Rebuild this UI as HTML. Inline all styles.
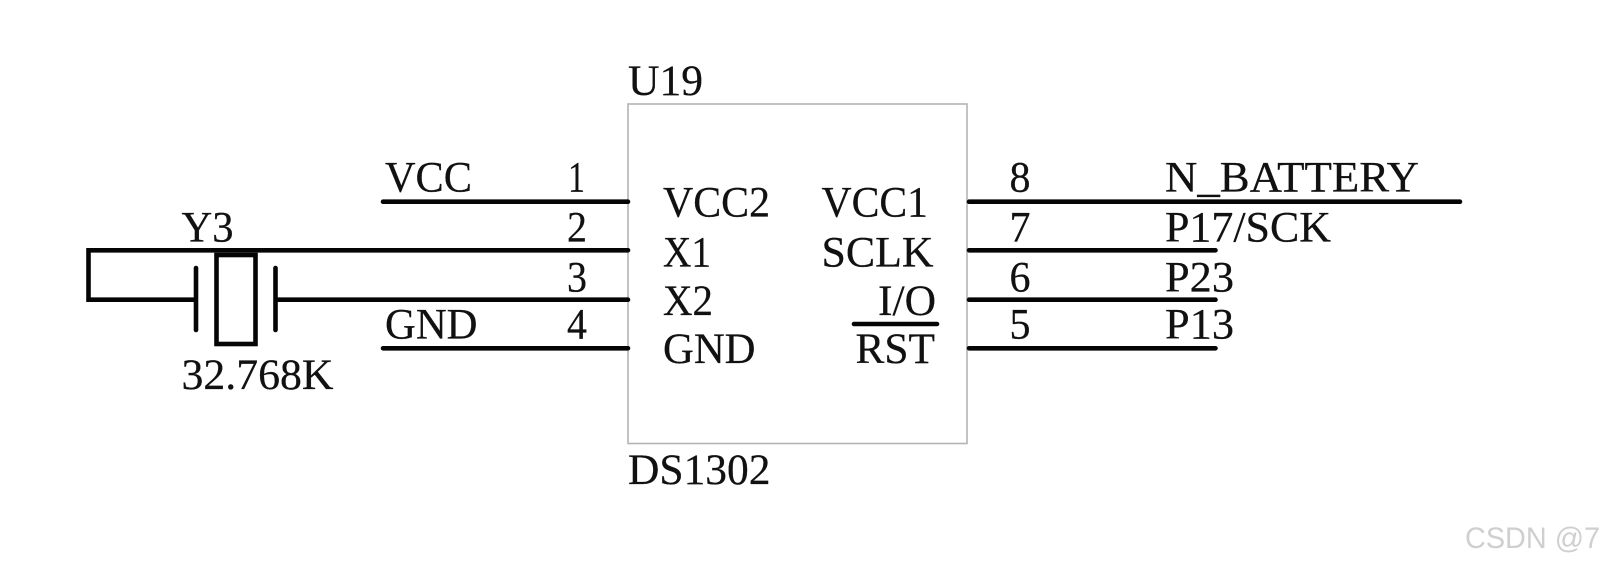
<!DOCTYPE html>
<html>
<head>
<meta charset="utf-8">
<style>
html,body{margin:0;padding:0;background:#fff;width:1604px;height:566px;overflow:hidden}
svg{display:block}
text{font-family:"Liberation Serif",serif;font-size:43px;fill:#111;stroke:#111;stroke-width:.25}
.w{stroke:#050505;stroke-width:4.6;fill:none;stroke-linecap:round;stroke-linejoin:miter}
</style>
</head>
<body>
<svg width="1604" height="566" viewBox="0 0 1604 566" xmlns="http://www.w3.org/2000/svg">
<rect x="628" y="104" width="339" height="339.5" fill="#fff" stroke="#b4b4b4" stroke-width="1.6"/>
<path class="w" d="M383 201.700H628M628 250.300H88.500V299.700H196M196 268V330M275.500 268V330M275.500 299.700H628M383 348.300H628"/>
<rect class="w" x="216.500" y="255" width="39" height="89" style="stroke-linecap:butt"/>
<path class="w" d="M969 201.700H1460M969 250.300H1215.500M969 299.700H1215.500M969 348.300H1215.500M854 324H937"/>

<text x="628" y="95" textLength="75" lengthAdjust="spacingAndGlyphs">U19</text>
<text x="628" y="484" textLength="142.500" lengthAdjust="spacingAndGlyphs">DS1302</text>
<text x="663" y="216.700" textLength="107" lengthAdjust="spacingAndGlyphs">VCC2</text>
<text x="663" y="266.700" textLength="48" lengthAdjust="spacingAndGlyphs">X1</text>
<text x="663" y="315" textLength="50" lengthAdjust="spacingAndGlyphs">X2</text>
<text x="663" y="363" textLength="92.500" lengthAdjust="spacingAndGlyphs">GND</text>
<text x="821.500" y="216.700" textLength="106.500" lengthAdjust="spacingAndGlyphs">VCC1</text>
<text x="821.500" y="266.700" textLength="112" lengthAdjust="spacingAndGlyphs">SCLK</text>
<text x="878" y="315" textLength="58" lengthAdjust="spacingAndGlyphs">I/O</text>
<text x="855.500" y="363" textLength="79.500" lengthAdjust="spacingAndGlyphs">RST</text>

<text x="385" y="191.700" textLength="87" lengthAdjust="spacingAndGlyphs">VCC</text>
<text x="385" y="338.300" textLength="92.500" lengthAdjust="spacingAndGlyphs">GND</text>
<text x="181.500" y="241.700" textLength="52" lengthAdjust="spacingAndGlyphs">Y3</text>
<text x="181.500" y="389" textLength="152" lengthAdjust="spacingAndGlyphs">32.768K</text>
<text x="568" y="191.700" textLength="17" lengthAdjust="spacingAndGlyphs">1</text>
<text x="567" y="241.700" textLength="20" lengthAdjust="spacingAndGlyphs">2</text>
<text x="567" y="291.700" textLength="20" lengthAdjust="spacingAndGlyphs">3</text>
<text x="567" y="338.300" textLength="20" lengthAdjust="spacingAndGlyphs">4</text>

<text x="1009.500" y="191.700" textLength="21" lengthAdjust="spacingAndGlyphs">8</text>
<text x="1009.500" y="241.700" textLength="21" lengthAdjust="spacingAndGlyphs">7</text>
<text x="1009.500" y="291.700" textLength="21" lengthAdjust="spacingAndGlyphs">6</text>
<text x="1009.500" y="338.300" textLength="21" lengthAdjust="spacingAndGlyphs">5</text>
<text x="1165" y="191.700" textLength="254" lengthAdjust="spacingAndGlyphs">N_BATTERY</text>
<text x="1165" y="241.700" textLength="166" lengthAdjust="spacingAndGlyphs">P17/SCK</text>
<text x="1165" y="291.700" textLength="69" lengthAdjust="spacingAndGlyphs">P23</text>
<text x="1165" y="338.300" textLength="69" lengthAdjust="spacingAndGlyphs">P13</text>

<text x="1465" y="548" textLength="135" lengthAdjust="spacingAndGlyphs" style="font-family:'Liberation Sans',sans-serif;font-size:30px;fill:#cfcfcf;stroke:none">CSDN @7</text>
</svg>
</body>
</html>
